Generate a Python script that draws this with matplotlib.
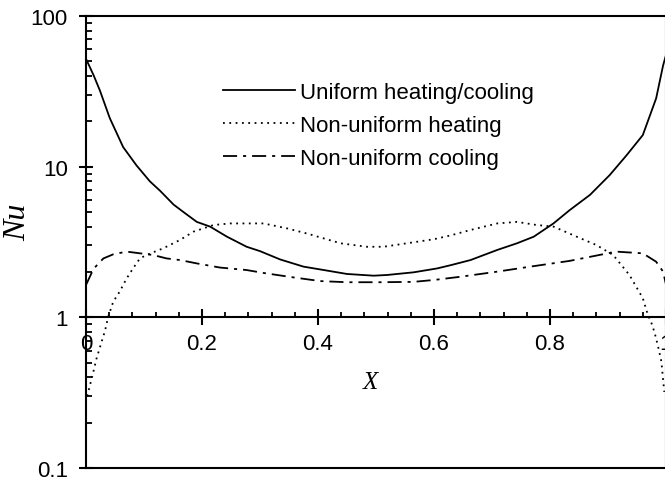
import matplotlib
matplotlib.use("Agg")
import matplotlib.pyplot as plt
from matplotlib.ticker import MultipleLocator, LogLocator, NullFormatter, FixedLocator

plt.rcParams['font.family'] = ['Liberation Sans', 'DejaVu Sans']

# Uniform heating/cooling (solid)
x_uniform = [0, 0.013, 0.024, 0.041, 0.064, 0.087, 0.11, 0.128, 0.151, 0.168, 0.191, 0.214,
             0.243, 0.277, 0.30, 0.335, 0.375, 0.41, 0.45, 0.496, 0.519, 0.565, 0.605, 0.629,
             0.663, 0.709, 0.743, 0.772, 0.806, 0.834, 0.869, 0.903, 0.932, 0.96, 0.983, 0.995, 1.0]
nu_uniform = [52, 40.5, 32, 21, 13.5, 10.2, 8.0, 6.9, 5.6, 5.0, 4.3, 4.0,
              3.43, 2.94, 2.75, 2.42, 2.17, 2.06, 1.94, 1.89, 1.91, 1.99, 2.11, 2.22,
              2.4, 2.8, 3.1, 3.43, 4.2, 5.15, 6.5, 8.8, 11.9, 16.2, 28.4, 47, 55]

# Non-uniform heating (dotted)
x_heating = [0.002, 0.007, 0.013, 0.018, 0.027, 0.033, 0.038, 0.047, 0.058, 0.07, 0.081, 0.093,
             0.104, 0.133, 0.162, 0.185, 0.22, 0.249, 0.277, 0.306, 0.346, 0.381, 0.41, 0.439,
             0.484, 0.513, 0.553, 0.6, 0.629, 0.663, 0.709, 0.743, 0.777, 0.806, 0.846, 0.88,
             0.909, 0.937, 0.96, 0.969, 0.974, 0.98, 0.986, 0.992, 0.997]
nu_heating = [0.30, 0.356, 0.44, 0.53, 0.69, 0.82, 1.0, 1.27, 1.48, 1.81, 2.11, 2.46,
              2.59, 2.87, 3.26, 3.7, 4.1, 4.2, 4.2, 4.2, 3.9, 3.6, 3.34, 3.1,
              2.94, 2.94, 3.1, 3.3, 3.5, 3.8, 4.2, 4.3, 4.1, 4.0, 3.43, 3.02,
              2.59, 1.91, 1.34, 1.03, 0.94, 0.80, 0.65, 0.51, 0.32]

# Non-uniform cooling (dash-dot)
x_cooling = [0, 0.013, 0.03, 0.047, 0.07, 0.093, 0.116, 0.139, 0.162, 0.191, 0.231, 0.277,
             0.306, 0.358, 0.404, 0.45, 0.508, 0.565, 0.6, 0.646, 0.709, 0.766, 0.834, 0.88,
             0.914, 0.96, 0.983, 0.995, 1.0]
nu_cooling = [1.64, 2.1, 2.46, 2.62, 2.73, 2.66, 2.59, 2.46, 2.4, 2.28, 2.14, 2.06,
              1.97, 1.84, 1.74, 1.71, 1.71, 1.72, 1.77, 1.86, 2.01, 2.17, 2.37, 2.57,
              2.73, 2.66, 2.34, 2.01, 1.65]

labels = ["Uniform heating/cooling", "Non-uniform heating", "Non-uniform cooling"]
x_ticks = [0, 0.2, 0.4, 0.6, 0.8, 1]
x_ticklabels = ["0", "0.2", "0.4", "0.6", "0.8", "1"]
y_ticks = [0.1, 1, 10, 100]
y_ticklabels = ["0.1", "1", "10", "100"]
ymin, ymax = 0.1, 100

fig = plt.figure(figsize=(6.65, 4.81), dpi=100)
ax = fig.add_axes([86 / 665, 12 / 481, 580 / 665, 452 / 481])

ax.plot(x_uniform, nu_uniform, color="black", lw=1.3, label=labels[0])
ax.plot(x_heating, nu_heating, color="black", lw=1.3, linestyle=(0, (1, 2.5)), label=labels[1])
ax.plot(x_cooling, nu_cooling, color="black", lw=1.3, linestyle=(0, (7.8, 3.3, 1.7, 3.3)), label=labels[2])

ax.set_yscale("log")
ax.set_xlim(0, 1)
ax.set_ylim(ymin, ymax)

# axis frame
for s in ax.spines.values():
    s.set_linewidth(1.5)
ax.spines['bottom'].set_position(('data', 1))
ax.axhline(ymin, color="black", lw=1.5, clip_on=False)

# x ticks sit on the y=1 line
ax.xaxis.set_major_locator(FixedLocator(x_ticks))
ax.set_xticklabels(x_ticklabels)
ax.xaxis.set_minor_locator(MultipleLocator(0.04))
ax.tick_params(axis="x", which="major", direction="inout", length=11, width=1.5, pad=6, labelsize=16)
ax.tick_params(axis="x", which="minor", direction="in", length=3.5, width=1.3)

ax.yaxis.set_major_locator(FixedLocator(y_ticks))
ax.set_yticklabels(y_ticklabels)
ax.yaxis.set_minor_locator(LogLocator(base=10, subs=range(2, 10)))
ax.yaxis.set_minor_formatter(NullFormatter())
ax.tick_params(axis="y", which="major", direction="inout", length=10, width=1.5, pad=8, labelsize=16)
ax.tick_params(axis="y", which="minor", direction="in", length=4, width=1.3)

# axis titles
fig.text(370 / 665, 1 - 383 / 481, "X", fontsize=18, fontstyle="italic",
         family=["Liberation Serif"], ha="center", va="center")
fig.text(18 / 665, 1 - 222 / 481, "Nu", fontsize=23, fontstyle="italic",
         family=["Liberation Serif"], ha="center", va="center", rotation=90)

ax.legend(loc="upper left", bbox_to_anchor=(223 / 665, 1 - 83 / 481), bbox_transform=fig.transFigure,
          frameon=False, fontsize=16, handlelength=3.25, handletextpad=0.2,
          labelspacing=0.54, borderpad=0, borderaxespad=0)

fig.savefig("out.png", dpi=100)
